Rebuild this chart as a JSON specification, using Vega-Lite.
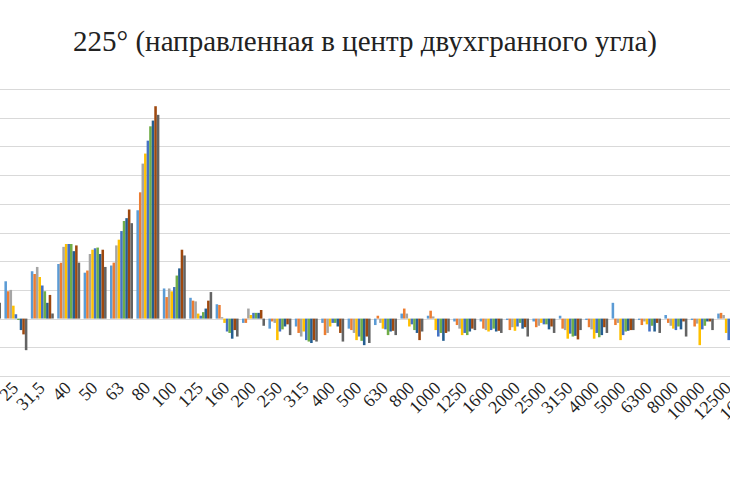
{
  "$schema": "https://vega.github.io/schema/vega-lite/v6.json",
  "width": 730,
  "height": 287,
  "autosize": {"type": "none"},
  "padding": {"left": 0, "top": 89, "right": 0, "bottom": 110},
  "background": "white",
  "title": {
    "text": "225° (направленная в центр двухгранного угла)",
    "font": "Liberation Serif",
    "fontSize": 29,
    "fontWeight": "normal",
    "color": "#222222",
    "anchor": "middle",
    "baseline": "alphabetic",
    "offset": 9
  },
  "config": {"view": {"stroke": null}},
  "data": {
    "values": [
      {"f":"20","s":"9","v":1.1},
      {"f":"25","s":"1","v":2.6},{"f":"25","s":"2","v":1.9},{"f":"25","s":"3","v":2.0},{"f":"25","s":"4","v":0.9},{"f":"25","s":"5","v":0.3},{"f":"25","s":"6","v":-0.1},{"f":"25","s":"7","v":-0.8},{"f":"25","s":"8","v":-1.1},{"f":"25","s":"9","v":-2.2},
      {"f":"31,5","s":"1","v":3.3},{"f":"31,5","s":"2","v":3.1},{"f":"31,5","s":"3","v":3.6},{"f":"31,5","s":"4","v":2.9},{"f":"31,5","s":"5","v":2.3},{"f":"31,5","s":"6","v":1.9},{"f":"31,5","s":"7","v":1.1},{"f":"31,5","s":"8","v":1.65},{"f":"31,5","s":"9","v":0.35},
      {"f":"40","s":"1","v":3.8},{"f":"40","s":"2","v":3.9},{"f":"40","s":"3","v":5.0},{"f":"40","s":"4","v":5.2},{"f":"40","s":"5","v":5.2},{"f":"40","s":"6","v":5.2},{"f":"40","s":"7","v":4.7},{"f":"40","s":"8","v":5.1},{"f":"40","s":"9","v":3.9},
      {"f":"50","s":"1","v":3.2},{"f":"50","s":"2","v":3.35},{"f":"50","s":"3","v":4.5},{"f":"50","s":"4","v":4.8},{"f":"50","s":"5","v":4.9},{"f":"50","s":"6","v":4.95},{"f":"50","s":"7","v":4.5},{"f":"50","s":"8","v":4.8},{"f":"50","s":"9","v":3.6},
      {"f":"63","s":"1","v":3.7},{"f":"63","s":"2","v":3.9},{"f":"63","s":"3","v":5.1},{"f":"63","s":"4","v":5.5},{"f":"63","s":"5","v":6.1},{"f":"63","s":"6","v":6.8},{"f":"63","s":"7","v":7.0},{"f":"63","s":"8","v":7.6},{"f":"63","s":"9","v":6.65},
      {"f":"80","s":"1","v":7.55},{"f":"80","s":"2","v":8.8},{"f":"80","s":"3","v":10.8},{"f":"80","s":"4","v":11.5},{"f":"80","s":"5","v":12.4},{"f":"80","s":"6","v":13.4},{"f":"80","s":"7","v":13.8},{"f":"80","s":"8","v":14.8},{"f":"80","s":"9","v":14.2},
      {"f":"100","s":"1","v":2.1},{"f":"100","s":"2","v":1.5},{"f":"100","s":"3","v":2.1},{"f":"100","s":"4","v":1.9},{"f":"100","s":"5","v":2.2},{"f":"100","s":"6","v":3.0},{"f":"100","s":"7","v":3.5},{"f":"100","s":"8","v":4.8},{"f":"100","s":"9","v":4.4},
      {"f":"125","s":"1","v":1.45},{"f":"125","s":"2","v":1.25},{"f":"125","s":"3","v":1.2},{"f":"125","s":"4","v":0.35},{"f":"125","s":"5","v":0.2},{"f":"125","s":"6","v":0.45},{"f":"125","s":"7","v":0.7},{"f":"125","s":"8","v":1.25},{"f":"125","s":"9","v":1.85},
      {"f":"160","s":"1","v":1.0},{"f":"160","s":"2","v":0.95},{"f":"160","s":"3","v":0.1},{"f":"160","s":"4","v":-0.3},{"f":"160","s":"5","v":-0.9},{"f":"160","s":"6","v":-1.0},{"f":"160","s":"7","v":-1.4},{"f":"160","s":"8","v":-0.8},{"f":"160","s":"9","v":-1.25},
      {"f":"200","s":"1","v":-0.3},{"f":"200","s":"2","v":-0.3},{"f":"200","s":"3","v":0.7},{"f":"200","s":"4","v":0.25},{"f":"200","s":"5","v":0.4},{"f":"200","s":"6","v":0.4},{"f":"200","s":"7","v":0.4},{"f":"200","s":"8","v":0.6},{"f":"200","s":"9","v":-0.5},
      {"f":"250","s":"1","v":-0.7},{"f":"250","s":"2","v":-0.2},{"f":"250","s":"3","v":-0.3},{"f":"250","s":"4","v":-1.5},{"f":"250","s":"5","v":-0.9},{"f":"250","s":"6","v":-0.75},{"f":"250","s":"7","v":-0.55},{"f":"250","s":"8","v":-0.4},{"f":"250","s":"9","v":-1.15},
      {"f":"315","s":"1","v":-0.55},{"f":"315","s":"2","v":-1.0},{"f":"315","s":"3","v":-1.25},{"f":"315","s":"4","v":-0.9},{"f":"315","s":"5","v":-1.5},{"f":"315","s":"6","v":-1.6},{"f":"315","s":"7","v":-1.7},{"f":"315","s":"8","v":-1.5},{"f":"315","s":"9","v":-1.6},
      {"f":"400","s":"1","v":-0.3},{"f":"400","s":"2","v":-1.15},{"f":"400","s":"3","v":-1.0},{"f":"400","s":"4","v":-0.55},{"f":"400","s":"5","v":-0.3},{"f":"400","s":"6","v":-0.3},{"f":"400","s":"7","v":-0.55},{"f":"400","s":"8","v":-1.0},{"f":"400","s":"9","v":-1.6},
      {"f":"500","s":"1","v":-0.7},{"f":"500","s":"2","v":-0.8},{"f":"500","s":"3","v":-1.0},{"f":"500","s":"4","v":-1.5},{"f":"500","s":"5","v":-1.25},{"f":"500","s":"6","v":-1.55},{"f":"500","s":"7","v":-1.85},{"f":"500","s":"8","v":-1.25},{"f":"500","s":"9","v":-1.7},
      {"f":"630","s":"1","v":-0.45},{"f":"630","s":"2","v":0.2},{"f":"630","s":"3","v":-0.3},{"f":"630","s":"4","v":-0.7},{"f":"630","s":"5","v":-0.75},{"f":"630","s":"6","v":-1.15},{"f":"630","s":"7","v":-0.9},{"f":"630","s":"8","v":-0.85},{"f":"630","s":"9","v":-1.15},
      {"f":"800","s":"1","v":0.35},{"f":"800","s":"2","v":0.7},{"f":"800","s":"3","v":0.35},{"f":"800","s":"4","v":-0.55},{"f":"800","s":"5","v":-0.4},{"f":"800","s":"6","v":-0.8},{"f":"800","s":"7","v":-1.0},{"f":"800","s":"8","v":-1.5},{"f":"800","s":"9","v":-0.9},
      {"f":"1000","s":"1","v":0.2},{"f":"1000","s":"2","v":0.55},{"f":"1000","s":"3","v":0.15},{"f":"1000","s":"4","v":-0.8},{"f":"1000","s":"5","v":-1.25},{"f":"1000","s":"6","v":-1.0},{"f":"1000","s":"7","v":-1.55},{"f":"1000","s":"8","v":-1.0},{"f":"1000","s":"9","v":-0.9},
      {"f":"1250","s":"1","v":-0.2},{"f":"1250","s":"2","v":-0.45},{"f":"1250","s":"3","v":-0.7},{"f":"1250","s":"4","v":-1.15},{"f":"1250","s":"5","v":-1.0},{"f":"1250","s":"6","v":-1.15},{"f":"1250","s":"7","v":-0.9},{"f":"1250","s":"8","v":-0.7},{"f":"1250","s":"9","v":-0.8},
      {"f":"1600","s":"1","v":-0.2},{"f":"1600","s":"2","v":-0.7},{"f":"1600","s":"3","v":-0.8},{"f":"1600","s":"4","v":-0.9},{"f":"1600","s":"5","v":-0.8},{"f":"1600","s":"6","v":-0.7},{"f":"1600","s":"7","v":-0.9},{"f":"1600","s":"8","v":-0.85},{"f":"1600","s":"9","v":-1.0},
      {"f":"2000","s":"1","v":-0.1},{"f":"2000","s":"2","v":-0.8},{"f":"2000","s":"3","v":-0.6},{"f":"2000","s":"4","v":-0.85},{"f":"2000","s":"5","v":-0.55},{"f":"2000","s":"6","v":-0.3},{"f":"2000","s":"7","v":-0.7},{"f":"2000","s":"8","v":-0.6},{"f":"2000","s":"9","v":-1.25},
      {"f":"2500","s":"1","v":-0.2},{"f":"2500","s":"2","v":-0.6},{"f":"2500","s":"3","v":-0.5},{"f":"2500","s":"4","v":-0.3},{"f":"2500","s":"5","v":-0.4},{"f":"2500","s":"6","v":-0.4},{"f":"2500","s":"7","v":-0.75},{"f":"2500","s":"8","v":-0.55},{"f":"2500","s":"9","v":-1.0},
      {"f":"3150","s":"1","v":0.2},{"f":"3150","s":"2","v":-0.7},{"f":"3150","s":"3","v":-0.8},{"f":"3150","s":"4","v":-1.4},{"f":"3150","s":"5","v":-1.05},{"f":"3150","s":"6","v":-1.25},{"f":"3150","s":"7","v":-1.2},{"f":"3150","s":"8","v":-1.45},{"f":"3150","s":"9","v":-0.8},
      {"f":"4000","s":"1","v":-0.1},{"f":"4000","s":"2","v":-0.6},{"f":"4000","s":"3","v":-0.75},{"f":"4000","s":"4","v":-1.4},{"f":"4000","s":"5","v":-1.0},{"f":"4000","s":"6","v":-1.3},{"f":"4000","s":"7","v":-1.15},{"f":"4000","s":"8","v":-0.6},{"f":"4000","s":"9","v":-1.0},
      {"f":"5000","s":"1","v":1.1},{"f":"5000","s":"2","v":-0.45},{"f":"5000","s":"3","v":-0.3},{"f":"5000","s":"4","v":-1.5},{"f":"5000","s":"5","v":-1.15},{"f":"5000","s":"6","v":-0.9},{"f":"5000","s":"7","v":-0.85},{"f":"5000","s":"8","v":-0.8},{"f":"5000","s":"9","v":-0.8},
      {"f":"6300","s":"1","v":-0.1},{"f":"6300","s":"2","v":-0.45},{"f":"6300","s":"3","v":-0.2},{"f":"6300","s":"4","v":-0.4},{"f":"6300","s":"5","v":-0.9},{"f":"6300","s":"6","v":-0.5},{"f":"6300","s":"7","v":-0.9},{"f":"6300","s":"8","v":-0.3},{"f":"6300","s":"9","v":-1.0},
      {"f":"8000","s":"1","v":0.25},{"f":"8000","s":"2","v":-0.3},{"f":"8000","s":"3","v":-0.5},{"f":"8000","s":"4","v":-0.7},{"f":"8000","s":"5","v":-0.8},{"f":"8000","s":"6","v":-0.55},{"f":"8000","s":"7","v":-0.75},{"f":"8000","s":"8","v":-0.2},{"f":"8000","s":"9","v":-1.25},
      {"f":"10000","s":"1","v":-0.1},{"f":"10000","s":"2","v":-0.55},{"f":"10000","s":"3","v":-0.35},{"f":"10000","s":"4","v":-1.85},{"f":"10000","s":"5","v":-0.75},{"f":"10000","s":"6","v":-0.5},{"f":"10000","s":"7","v":-0.2},{"f":"10000","s":"8","v":-0.2},{"f":"10000","s":"9","v":-0.8},
      {"f":"12500","s":"1","v":0.35},{"f":"12500","s":"2","v":0.4},{"f":"12500","s":"3","v":0.25},{"f":"12500","s":"4","v":-1.0},{"f":"12500","s":"5","v":-1.5}
    ]
  },
  "mark": {"type": "bar", "clip": true},
  "encoding": {
    "x": {
      "field": "f",
      "type": "nominal",
      "scale": {
        "domain": ["20","25","31,5","40","50","63","80","100","125","160","200","250","315","400","500","630","800","1000","1250","1600","2000","2500","3150","4000","5000","6300","8000","10000","12500","16000"],
        "range": [-23.7, 768.3],
        "paddingInner": 0.13,
        "paddingOuter": 0.065
      },
      "axis": {
        "title": null,
        "labelAngle": -45,
        "labelAlign": "right",
        "labelBaseline": "middle",
        "labelFont": "Liberation Serif",
        "labelFontSize": 18,
        "labelColor": "#222222",
        "labelPadding": 9,
        "labelOverlap": false,
        "labelBound": false,
        "ticks": false,
        "domain": false,
        "grid": false
      }
    },
    "xOffset": {"field": "s", "type": "nominal", "scale": {"paddingInner": 0, "paddingOuter": 0}},
    "y": {
      "field": "v",
      "type": "quantitative",
      "scale": {"domain": [-4, 16], "nice": false, "zero": true},
      "axis": {
        "title": null,
        "labels": false,
        "ticks": false,
        "domain": false,
        "grid": true,
        "gridColor": "#D9D9D9",
        "gridWidth": 1.2,
        "values": [-4,-2,0,2,4,6,8,10,12,14,16]
      }
    },
    "color": {
      "field": "s",
      "type": "nominal",
      "legend": null,
      "scale": {
        "domain": ["1","2","3","4","5","6","7","8","9"],
        "range": ["#5B9BD5","#ED7D31","#A5A5A5","#FFC000","#4472C4","#70AD47","#255E91","#9E480E","#636363"]
      }
    }
  }
}
